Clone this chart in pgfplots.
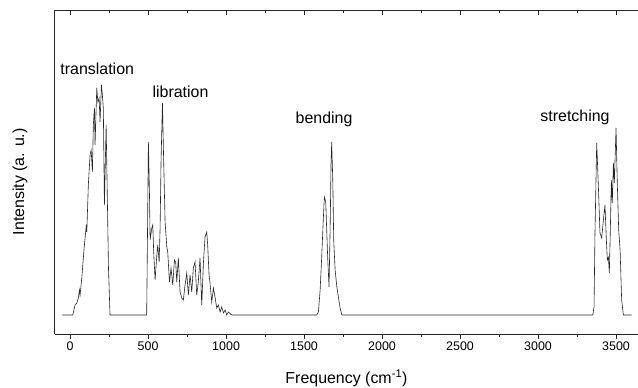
\documentclass[border=0pt]{standalone}
\usepackage{pgfplots}
\pgfplotsset{compat=1.18}
\usepackage{fontspec}
\setmainfont{Liberation Sans}
\begin{document}
\begin{tikzpicture}
\begin{axis}[
  scale only axis, width=584bp, height=324bp,
  xmin=-100, xmax=3644, ymin=-19, ymax=305,
  axis x line*=bottom, axis y line*=left,
  axis line style={line width=0.9bp, black!85},
  ytick=\empty,
  xtick={0,500,...,3500},
  minor xtick={250,750,...,3250},
  tick align=outside,
  major tick length=4.5bp, minor tick length=3bp,
  every tick/.style={black!85, line width=0.9bp},
  /pgf/number format/assume math mode=true,
  /pgf/number format/1000 sep={},
  ticklabel style={font=\fontsize{12.5}{15}\selectfont},
  xlabel={Frequency (cm\textsuperscript{-1})},
  ylabel={Intensity (a. u.)},
  xlabel style={font=\fontsize{16}{19}\selectfont, at={(axis description cs:0.5,-0.154)}, anchor=base},
  ylabel style={font=\fontsize{16}{19}\selectfont, at={(axis description cs:-0.059,0.47)}, anchor=center, rotate=0},
  clip=false,
]
\addplot[black!85, line width=0.6bp] coordinates {
(-50,0) (17,0) (32,10) (43,12) (53,17) (60,25) (64,20) (75,37) (90,67) (103,88) (107,83)
(117,130) (128,160) (135,165) (143,143) (149,190) (156,207) (160,170) (171,227) (178,213)
(186,217) (192,193) (201,230) (207,220) (213,207) (220,110) (231,190) (235,153) (246,47) (256,0)
(491,0) (502,173) (509,120) (513,75) (524,87) (530,90) (536,63) (545,35) (556,60) (562,70)
(571,53) (577,87) (583,153) (592,212) (600,153) (609,93) (620,68) (626,63) (637,33) (647,47)
(658,30) (669,55) (677,53) (684,33) (694,57) (705,23) (716,17) (726,15) (737,30) (748,42)
(758,20) (769,40) (780,23) (790,47) (801,53) (812,20) (822,33) (833,57) (844,10) (855,53)
(865,78) (876,83) (882,70) (891,40) (897,32) (908,13) (919,27) (929,18) (940,7) (951,10)
(962,3) (972,8) (983,2) (994,5) (1004,0) (1015,3) (1036,0)
(1581,0) (1592,3) (1603,25) (1613,58) (1624,98) (1630,118) (1639,113) (1645,85) (1652,55)
(1660,28) (1667,85) (1673,152) (1677,173) (1684,135) (1690,75) (1699,45) (1710,28) (1720,18)
(1731,7) (1742,0)
(3351,0) (3359,8) (3365,82) (3376,172) (3386,132) (3397,82) (3408,77) (3419,95) (3429,110)
(3436,82) (3444,55) (3451,58) (3457,42) (3463,82) (3470,135) (3476,112) (3483,152) (3489,132)
(3500,187) (3508,132) (3517,85) (3526,65) (3536,15) (3547,0) (3600,0)
};
\node[font=\fontsize{16}{19}\selectfont, anchor=base] at (axis cs:174,240) {translation};
\node[font=\fontsize{16}{19}\selectfont, anchor=base] at (axis cs:708,217) {libration};
\node[font=\fontsize{16}{19}\selectfont, anchor=base] at (axis cs:1628,191) {bending};
\node[font=\fontsize{16}{19}\selectfont, anchor=base] at (axis cs:3237,193) {stretching};
\end{axis}
\begin{axis}[
  scale only axis, width=584bp, height=324bp,
  xmin=-100, xmax=3644, ymin=-19, ymax=305,
  axis x line*=top, axis y line=none,
  axis line style={line width=0.9bp, black!85},
  xtick={0,500,...,3500},
  minor xtick={250,750,...,3250},
  xticklabels={},
  tick align=inside,
  major tick length=5bp, minor tick length=3bp,
  every tick/.style={black!85, line width=0.9bp},
]
\end{axis}
\pgfresetboundingbox
\path (-54.5bp,-54bp) rectangle (583.5bp,334bp);
\end{tikzpicture}
\end{document}
